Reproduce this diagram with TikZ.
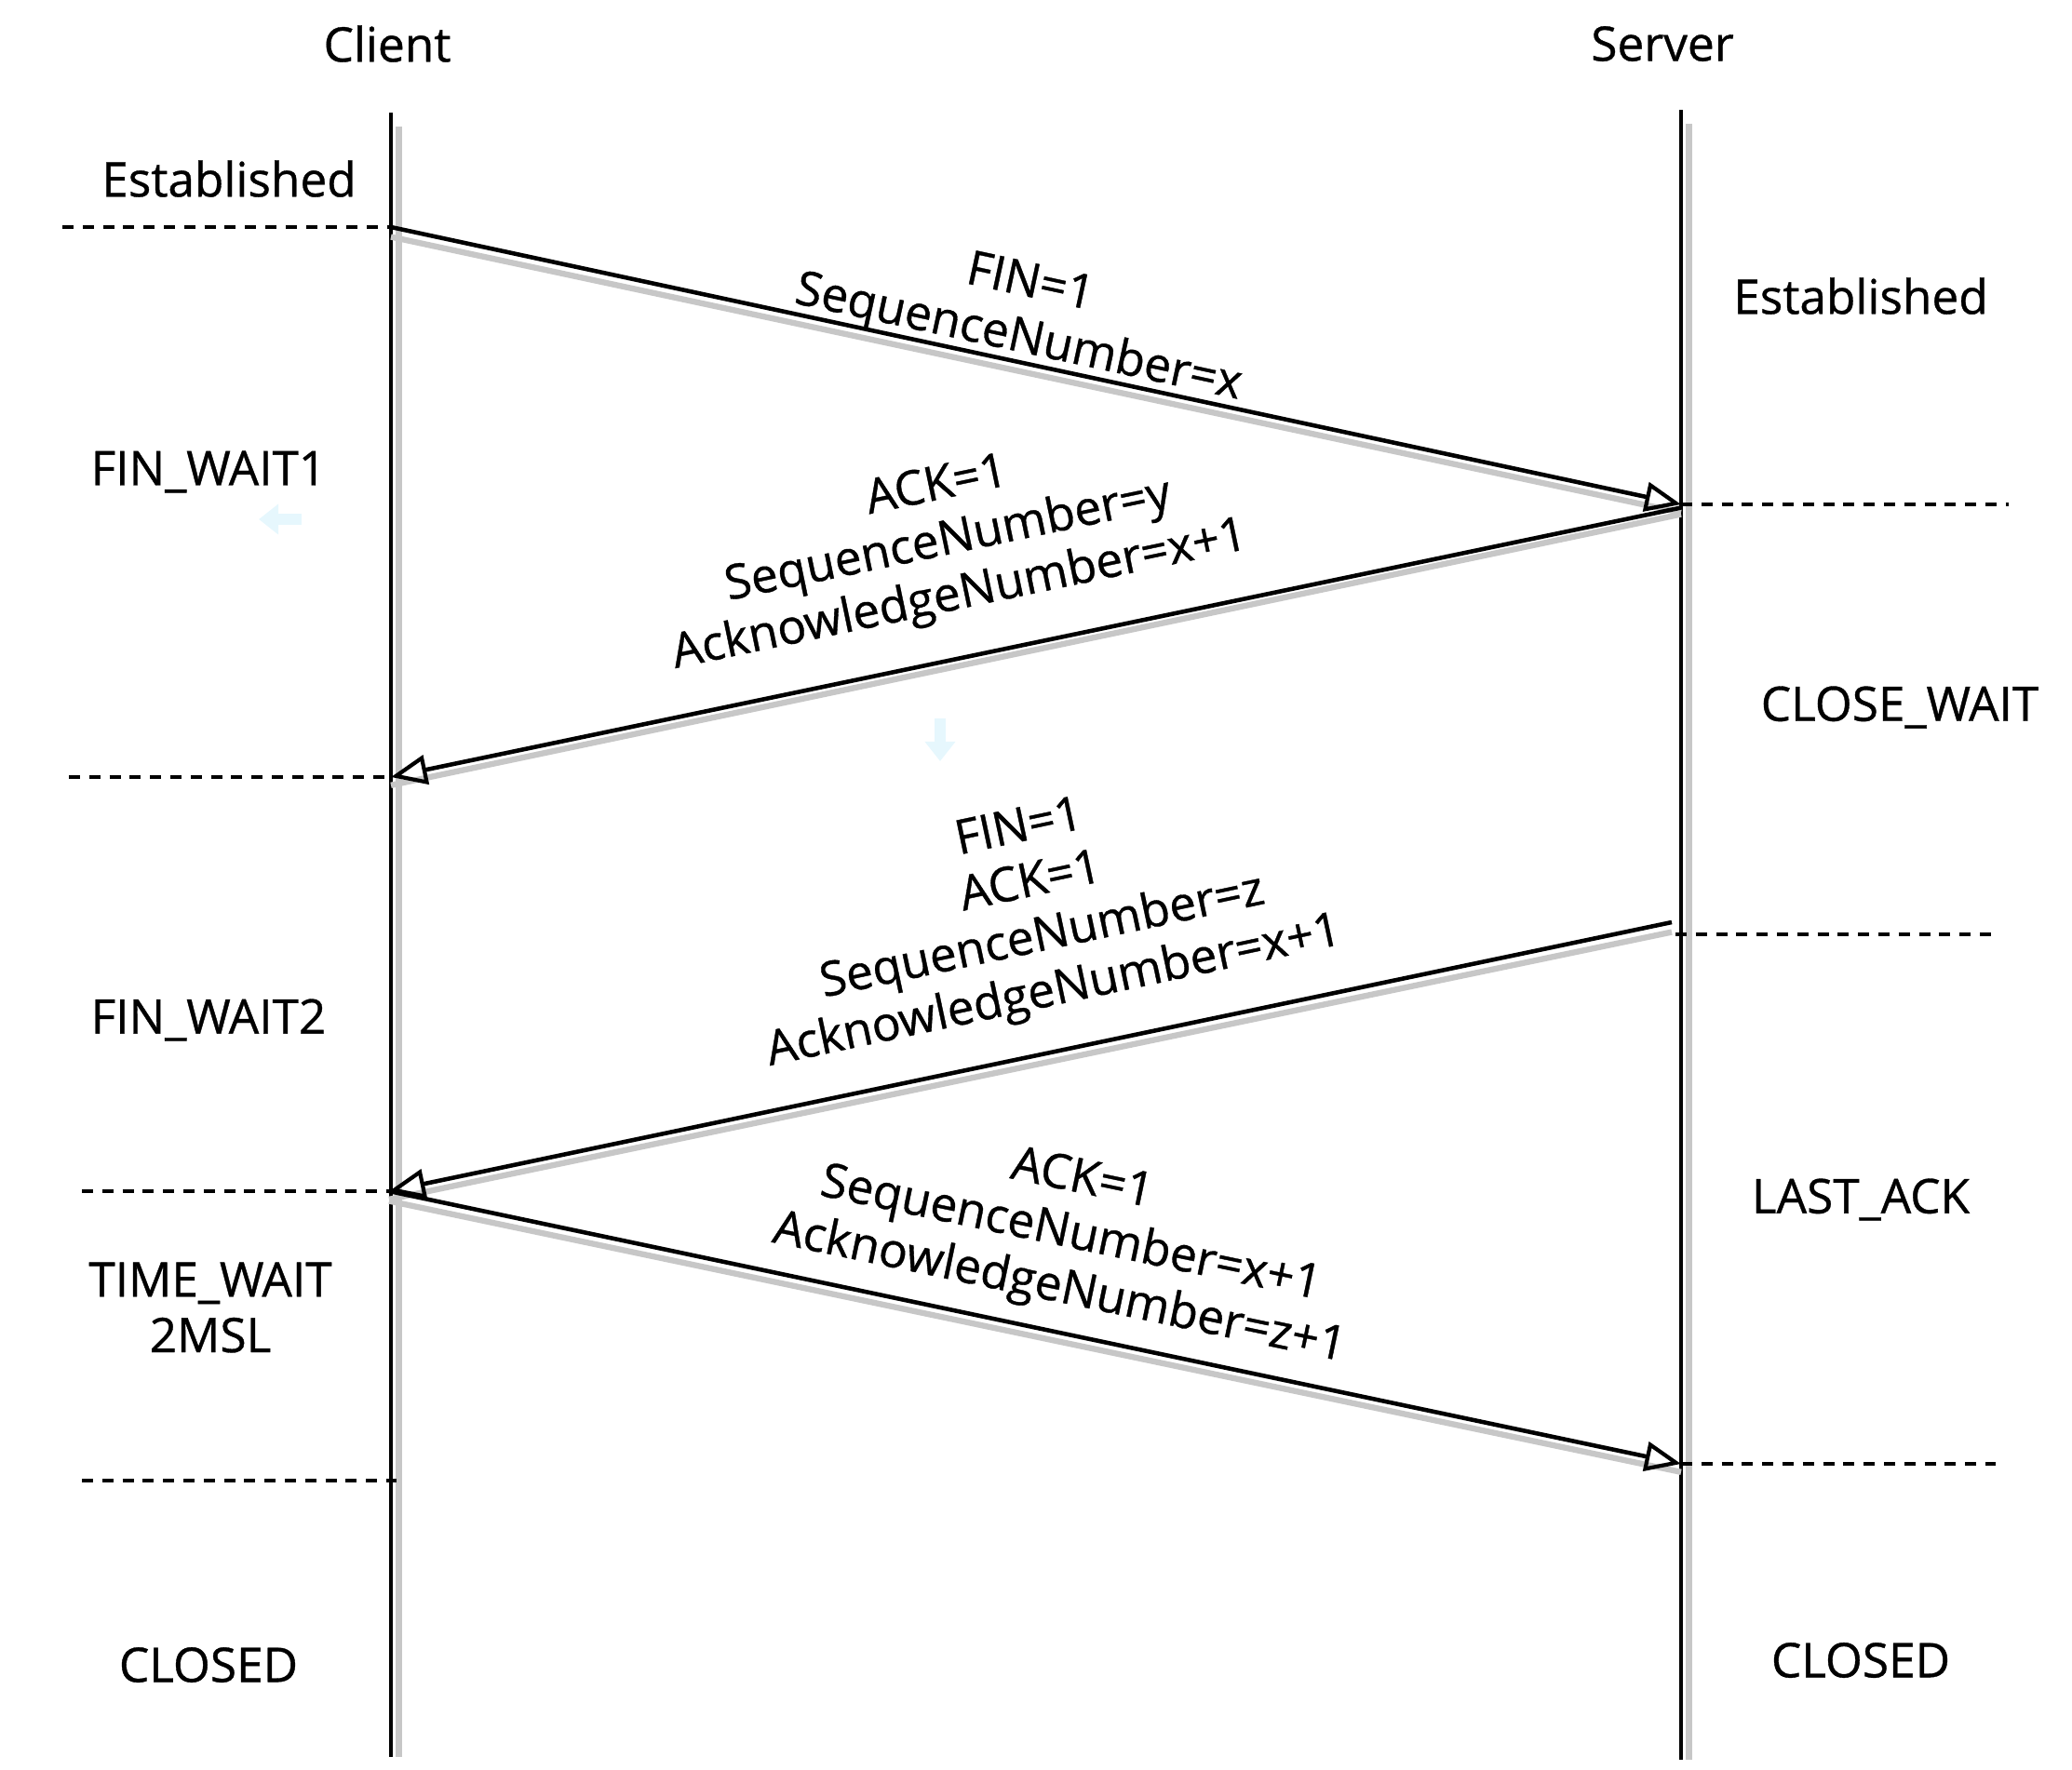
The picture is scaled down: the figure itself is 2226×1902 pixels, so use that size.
\documentclass[tikz,border=0pt]{standalone}
\usepackage{fontspec}
\setmainfont{Open Sans}
\newfontfamily\diagfont{Open Sans}[FakeBold=0.7]
\usetikzlibrary{arrows.meta, positioning}

\begin{document}
\begin{tikzpicture}[
    x=0.01cm, y=-0.01cm,
    font=\diagfont\fontsize{14.6}{17}\selectfont,
    state/.style = {align=center, inner sep=2pt},
    msg/.style   = {align=center, inner sep=0pt},
    life/.style  = {line width=1.2pt},
    ghost/.style = {line width=1.8pt, black!22},
    phase/.style = {line width=1.1pt, dash pattern=on 3.4pt off 2.8pt},
    arrow/.style = {-{Triangle[open, length=11pt, width=9pt, line width=1.2pt]}, line width=1.3pt},
    hint/.style  = {-{Triangle[length=6pt, width=9pt]}, line width=3.5pt, cyan!10}
]
\useasboundingbox (0,0) rectangle (2226,1902);

%% ── Participantes ───────────────────────────────────────────────────────────
\node[state] (client) at (416,47) {Client};
\node[state] (server) at (1786,47) {Server};

\coordinate (ctop) at (420,121);
\coordinate (cbot) at (420,1888);
\coordinate (stop) at (1806,118);
\coordinate (sbot) at (1806,1891);

\draw[ghost] ([xshift=2.4pt]ctop) ++(0,15) -- ([xshift=2.4pt]cbot);
\draw[ghost] ([xshift=2.4pt]stop) ++(0,15) -- ([xshift=2.4pt]sbot);
\draw[life] (ctop) -- (cbot);
\draw[life] (stop) -- (sbot);

%% ── Puntos de los mensajes ──────────────────────────────────────────────────
\coordinate (c1) at (420,244);
\coordinate (s1) at (1806,542);
\coordinate (c2) at (420,835);
\coordinate (s2) at (1796,991);
\coordinate (c3) at (418,1280);
\coordinate (s3) at (1806,1573);

%% ── Separadores de estado ───────────────────────────────────────────────────
\coordinate (dl1) at (67,244);
\coordinate (dr1) at (2158,542);
\coordinate (dl2) at (74,835);
\coordinate (dr2a) at (1800,1004);
\coordinate (dr2b) at (2141,1004);
\coordinate (dl3) at (88,1280);
\coordinate (dr3) at (2144,1573);
\coordinate (dl4a) at (88,1591);
\coordinate (dl4b) at (426,1591);

\draw[phase] (dl1) -- (c1);
\draw[phase] (s1) -- (dr1);
\draw[phase] (dl2) -- (c2);
\draw[phase] (dr2a) -- (dr2b);
\draw[phase] (dl3) -- (c3);
\draw[phase] (s3) -- (dr3);
\draw[phase] (dl4a) -- (dl4b);

%% ── Mensajes ────────────────────────────────────────────────────────────────
\draw[ghost] ([yshift=-3pt]c1) -- ([yshift=-2.5pt]s1);
\draw[ghost] ([yshift=-3pt]s1) -- ([yshift=-2.5pt]c2);
\draw[ghost] ([yshift=-3pt]s2) -- ([yshift=-2.5pt]c3);
\draw[ghost] ([yshift=-3pt]c3) -- ([yshift=-2.5pt]s3);
\draw[arrow] (c1) -- (s1);
\draw[arrow] ([yshift=-1pt]s1) -- (c2);
\draw[arrow] (s2) -- (c3);
\draw[arrow] (c3) -- (s3);

\node[msg, rotate=-12.2] (m1) at (1100,336) {FIN=1\\SequenceNumber=x};
\node[msg, rotate=11.8] (m2) at (1019,583) {ACK=1\\SequenceNumber=y\\AcknowledgeNumber=x+1};
\node[msg, rotate=12] (m3) at (1114,980) {FIN=1\\ACK=1\\SequenceNumber=z\\AcknowledgeNumber=x+1};
\node[msg, rotate=-11.8] (m4) at (1150,1328) {ACK=1\\SequenceNumber=x+1\\AcknowledgeNumber=z+1};

%% ── Estados del cliente ─────────────────────────────────────────────────────
\node[state] (cest) at (246,192) {Established};
\node[state] (cfw1) at (224,507) {FIN\_WAIT1};
\node[state] (cfw2) at (224,1096) {FIN\_WAIT2};
\node[state] (ctw) at (226,1405) {TIME\_WAIT\\2MSL};
\node[state] (ccl) at (224,1789) {CLOSED};

%% ── Estados del servidor ────────────────────────────────────────────────────
\node[state] (sest) at (1999,318) {Established};
\node[state] (scw) at (2041,760) {CLOSE\_WAIT};
\node[state] (sla) at (1999,1289) {LAST\_ACK};
\node[state] (scl) at (1999,1784) {CLOSED};

%% ── Marcas tenues ───────────────────────────────────────────────────────────
\coordinate (h1a) at (324,558);
\coordinate (h1b) at (278,558);
\coordinate (h2a) at (1010,772);
\coordinate (h2b) at (1010,818);
\draw[hint] (h1a) -- (h1b);
\draw[hint] (h2a) -- (h2b);

\end{tikzpicture}
\end{document}
